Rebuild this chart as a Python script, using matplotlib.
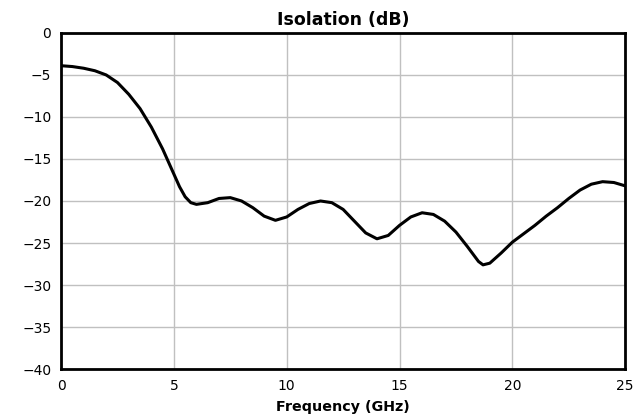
import numpy as np
import matplotlib.pyplot as plt

# Isolation curve
freq_ghz = [0, 0.5, 1, 1.5, 2, 2.5, 3, 3.5, 4, 4.5, 5, 5.25, 5.5, 5.75, 6, 6.5, 7, 7.5, 8, 8.5,
            9, 9.5, 10, 10.5, 11, 11.5, 12, 12.5, 13, 13.5, 14, 14.5, 15, 15.5,
            16, 16.5, 17, 17.5, 18, 18.5, 18.7, 19, 19.5, 20, 20.5, 21, 21.5,
            22, 22.5, 23, 23.5, 24, 24.5, 25]
isolation_db = [-3.9, -4.0, -4.2, -4.5, -5.0, -5.9, -7.3, -9.0, -11.2, -13.8, -16.8,
                -18.3, -19.5, -20.2, -20.4, -20.2, -19.7, -19.6, -20.0, -20.8, -21.8,
                -22.3, -21.9, -21.0, -20.3, -20.0, -20.2, -21.0, -22.4, -23.8, -24.5,
                -24.1, -22.9, -21.9, -21.4, -21.6, -22.4, -23.7, -25.4, -27.2, -27.6,
                -27.4, -26.2, -24.9, -23.9, -22.9, -21.8, -20.8, -19.7, -18.7, -18.0,
                -17.7, -17.8, -18.2]

fig, ax = plt.subplots(figsize=(6.36, 4.17), dpi=100)
fig.subplots_adjust(left=0.096, right=0.983, top=0.921, bottom=0.115)

ax.plot(freq_ghz, isolation_db, color="black", linewidth=2.2)

ax.set_xlim(0, 25)
ax.set_ylim(-40, 0)
ax.set_xticks(np.arange(0, 26, 5))
ax.set_yticks(np.arange(-40, 1, 5))
ax.grid(True, color="#c0c0c0", linewidth=1)
ax.set_axisbelow(True)
for s in ax.spines.values():
    s.set_linewidth(2)
ax.tick_params(labelsize=10, length=0, pad=7)

ax.set_title("Isolation (dB)", fontweight="bold", fontsize=12.5, pad=6)
ax.set_xlabel("Frequency (GHz)", fontweight="bold", fontsize=10.3, labelpad=5)

fig.savefig("out.png", dpi=100)
